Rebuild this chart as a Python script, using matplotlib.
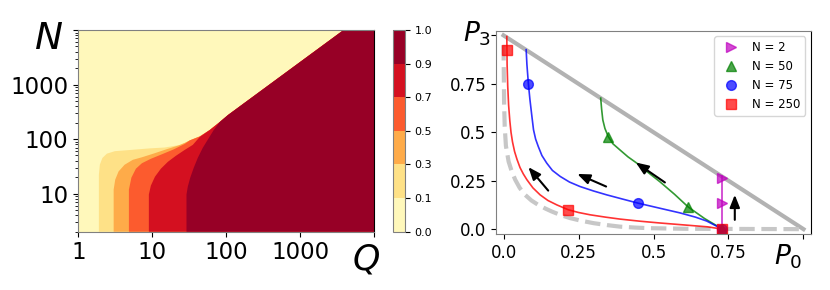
import numpy as np
import matplotlib
matplotlib.use('Agg')
import matplotlib.pyplot as plt
from matplotlib.colors import ListedColormap, BoundaryNorm
from matplotlib.cm import ScalarMappable

# ---- left panel: contour levels and the band edges (Q, N)
levels = [0.0, 0.1, 0.3, 0.5, 0.7, 0.9, 1.0]

edge01_Q = [1.9, 1.9, 1.96, 2.12, 2.44, 3.13, 4.99, 9.29, 14.8, 23.7]
edge01_N = [2, 22, 34, 45, 54, 60, 63, 67.5, 70, 78]
edge03_Q = [3.01, 3.01, 3.16, 3.51, 4.23, 5.48, 7.25, 10.5, 15.5, 22.9]
edge03_N = [2, 11.8, 18.0, 25.5, 33.8, 41.7, 46.3, 54.3, 64.8, 76.6]
edge05_Q = [4.84, 4.84, 5.23, 6.02, 7.25, 9.59, 13.5, 19.6, 27.6, 32.2]
edge05_N = [2, 11.8, 19.6, 28.6, 36.0, 43.5, 52.5, 64.8, 81.6, 94.5]
edge07_Q = [9.01, 9.01, 9.59, 10.9, 13.1, 16.3, 20.9, 27.6, 35.4, 44.0]
edge07_N = [2, 9.59, 14.0, 20.4, 28.6, 38.3, 49.3, 63.4, 78.2, 109.4]
edge09_Q = [29.1, 29.1, 30.3, 32.7, 36.5, 41.4, 48.3, 57.3, 68.0, 82.0]
edge09_N = [2, 9.59, 13.4, 19.6, 29.8, 45.3, 69.0, 100.6, 146.8, 205.4]

# upper edge of the coloured area (the diagonal)
diag_Q = [27.6, 32.2, 44.0, 60.1, 82.0, 106, 3880]
diag_N = [85.1, 94.5, 111.8, 146.8, 205.4, 276, 10000]

# ---- right panel: trajectories (P0, P3)
simplex_x = [0, 1]
simplex_y = [1, 0]
limit_x = [0.0, 0.001, 0.002, 0.004, 0.008, 0.017, 0.027, 0.039, 0.054, 0.072, 0.093,
           0.116, 0.14, 0.161, 0.19, 0.222, 0.26, 0.30, 0.345, 0.388, 0.44, 0.488, 0.6, 1.0]
limit_y = [0.95, 0.80, 0.65, 0.53, 0.43, 0.349, 0.30, 0.255, 0.213, 0.177, 0.148,
           0.125, 0.106, 0.091, 0.073, 0.057, 0.043, 0.031, 0.021, 0.013, 0.008, 0.005, 0.002, 0.0]

n2_x = [0.73, 0.73]
n2_y = [0.0, 0.275]
n50_x = [0.324, 0.327, 0.331, 0.338, 0.349, 0.365, 0.388, 0.415, 0.444, 0.48, 0.521,
         0.57, 0.616, 0.67, 0.73]
n50_y = [0.676, 0.62, 0.564, 0.52, 0.478, 0.44, 0.409, 0.373, 0.341, 0.295, 0.245,
         0.18, 0.114, 0.055, 0.0]
n75_x = [0.0755, 0.078, 0.083, 0.088, 0.094, 0.10, 0.107, 0.116, 0.128, 0.144, 0.163,
         0.189, 0.22, 0.255, 0.3, 0.344, 0.395, 0.449, 0.521, 0.588, 0.64, 0.677, 0.73]
n75_y = [0.926, 0.85, 0.749, 0.67, 0.59, 0.513, 0.465, 0.426, 0.38, 0.341, 0.303,
         0.272, 0.243, 0.22, 0.197, 0.177, 0.156, 0.134, 0.108, 0.084, 0.062, 0.042, 0.0]
n250_x = [0.011, 0.012, 0.014, 0.017, 0.021, 0.025, 0.030, 0.037, 0.045, 0.055, 0.066,
          0.078, 0.098, 0.122, 0.148, 0.178, 0.216, 0.25, 0.289, 0.34, 0.388, 0.455,
          0.52, 0.60, 0.68, 0.73]
n250_y = [0.994, 0.85, 0.74, 0.64, 0.56, 0.50, 0.45, 0.40, 0.36, 0.318, 0.285,
          0.255, 0.213, 0.177, 0.148, 0.125, 0.10, 0.086, 0.074, 0.062, 0.052, 0.041,
          0.032, 0.022, 0.012, 0.0]

m2_x, m2_y = [0.73, 0.73, 0.73], [0.263, 0.137, 0.0]
m50_x, m50_y = [0.349, 0.616, 0.73], [0.478, 0.114, 0.0]
m75_x, m75_y = [0.083, 0.449, 0.73], [0.749, 0.134, 0.0]
m250_x, m250_y = [0.011, 0.216, 0.73], [0.926, 0.10, 0.0]

arrows = [((0.149, 0.199), (0.083, 0.320)),
          ((0.342, 0.220), (0.246, 0.285)),
          ((0.538, 0.241), (0.441, 0.344)),
          ((0.771, 0.048), (0.771, 0.177))]

fig = plt.figure(figsize=(8.3, 2.9), dpi=100)

# ---------------- left panel
mids = [(a + b) / 2 for a, b in zip(levels[:-1], levels[1:])]
colors = [plt.cm.YlOrRd(m) for m in mids]

ax = fig.add_axes([0.0943, 0.201, 0.3563, 0.6955])
ax.set_xscale('log')
ax.set_yscale('log')
ax.set_xlim(1, 1e4)
ax.set_ylim(2, 1e4)
ax.set_facecolor(colors[0])

edges = [(edge01_Q, edge01_N), (edge03_Q, edge03_N), (edge05_Q, edge05_N),
         (edge07_Q, edge07_N), (edge09_Q, edge09_N)]
dq = np.array(diag_Q)
dn = np.array(diag_N)
for (eq, en), c in zip(edges, colors[1:]):
    keep = dq > eq[-1]
    px = list(eq) + list(dq[keep]) + [1e4, 1e4]
    py = list(en) + list(dn[keep]) + [1e4, 2]
    ax.fill(px, py, color=c, lw=0)

ax.set_xticks([1, 10, 100, 1000, 10000])
ax.set_xticklabels(['1', '10', '100', '1000', ''])
ax.set_yticks([10, 100, 1000, 10000])
ax.set_yticklabels(['10', '100', '1000', ''])
ax.tick_params(labelsize=16.5)
for s in ax.spines.values():
    s.set_color('0.5')
ax.spines['right'].set_color('k')

cax = fig.add_axes([0.4731, 0.201, 0.0148, 0.6955])
sm = ScalarMappable(norm=BoundaryNorm(levels, len(colors)), cmap=ListedColormap(colors))
cb = fig.colorbar(sm, cax=cax, ticks=levels)
cb.ax.set_yticklabels(['%.1f' % v for v in levels])
cb.ax.tick_params(labelsize=8)
cb.outline.set_edgecolor('0.5')

fig.text(49 / 830, 1 - 39 / 290, '$N$', fontsize=27, ha='center', va='center')
fig.text(366 / 830, 1 - 259 / 290, '$Q$', fontsize=25, ha='center', va='center')

# ---------------- right panel
ax2 = fig.add_axes([0.5976, 0.1931, 0.3795, 0.7017])
ax2.plot(simplex_x, simplex_y, color='gray', alpha=0.6, lw=3, clip_on=False)
ax2.plot(limit_x, limit_y, '--', color='0.78', lw=3)

ax2.plot(n2_x, n2_y, color='m', lw=1.2, alpha=0.8)
ax2.plot(n50_x, n50_y, color='g', lw=1.2, alpha=0.8)
ax2.plot(n75_x, n75_y, color='b', lw=1.2, alpha=0.8)
ax2.plot(n250_x, n250_y, color='r', lw=1.2, alpha=0.8)

ax2.plot(m2_x, m2_y, '>', color='m', ms=7, alpha=0.7, ls='none', label='N = 2')
ax2.plot(m50_x, m50_y, '^', color='g', ms=7, alpha=0.7, ls='none', label='N = 50')
ax2.plot(m75_x, m75_y, 'o', color='b', ms=7, alpha=0.7, ls='none', label='N = 75')
ax2.plot(m250_x, m250_y, 's', color='r', ms=7, alpha=0.7, ls='none', label='N = 250')

for tail, head in arrows:
    ax2.annotate('', xy=head, xytext=tail,
                 arrowprops=dict(arrowstyle='-|>,head_length=0.5,head_width=0.2',
                                 color='k', lw=1.5, mutation_scale=15,
                                 shrinkA=0, shrinkB=0))

ax2.set_xlim(-0.025, 1.025)
ax2.set_ylim(-0.025, 1.025)
ax2.set_xticks([0, 0.25, 0.5, 0.75, 1.0])
ax2.set_xticklabels(['0.0', '0.25', '0.5', '0.75', ''])
ax2.set_yticks([0, 0.25, 0.5, 0.75, 1.0])
ax2.set_yticklabels(['0.0', '0.25', '0.5', '0.75', ''])
ax2.tick_params(labelsize=12)
for s in ax2.spines.values():
    s.set_color('0.5')
ax2.spines['right'].set_color('k')
ax2.legend(loc='upper right', fontsize=8.5)

fig.text(477 / 830, 1 - 34 / 290, '$P_3$', fontsize=19, ha='center', va='center')
fig.text(788 / 830, 1 - 257 / 290, '$P_0$', fontsize=19, ha='center', va='center')

fig.savefig('out.png', dpi=100)
